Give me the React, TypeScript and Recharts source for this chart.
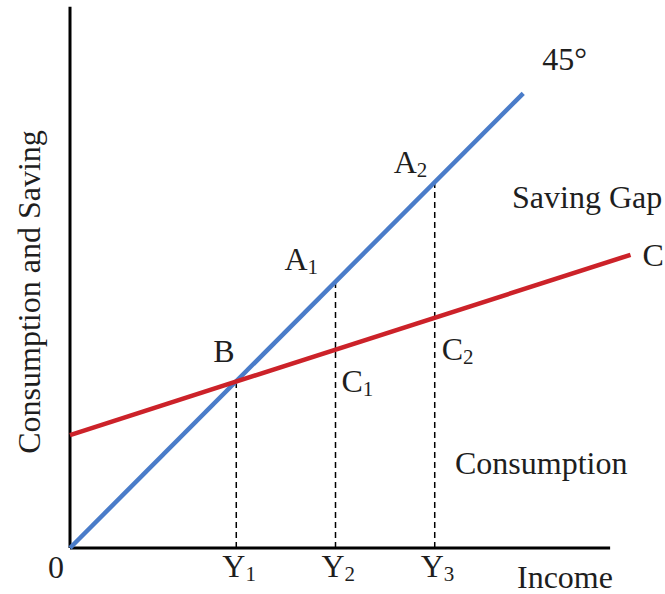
import React from 'react'
import { LineChart, Line, XAxis, YAxis, ReferenceLine, ReferenceDot } from 'recharts'

// income levels Y1, Y2, Y3 and what sits above them
const incomeLevels = [31, 49.5, 68]
const incomeNames = ['1', '2', '3']
const aValues = [49.5, 68] // A1, A2 on the 45° line
const cValues = [36.9, 42.8] // C1, C2 on the consumption line
const bValue = 31

// 45° line and consumption function
const line45 = [
  { x: 0, y: 0 },
  { x: 84.5, y: 84.5 },
]
const consumption = [
  { x: 0, y: 21 },
  { x: 104.5, y: 54.5 },
]

const FONT = '"Liberation Serif", "Times New Roman", serif'
const INK = '#1e1e1e'
const BLUE = '#4a7cc9'
const RED = '#cc2229'

function Sub({ viewBox, main, sub, dx, dy }: any) {
  const x = viewBox.x + viewBox.width / 2 + dx
  const y = viewBox.y + viewBox.height / 2 + dy
  return (
    <text x={x} y={y} fontFamily={FONT} fontSize={32} fill={INK}>
      {main}
      {sub ? <tspan fontSize={21} dy={4}>{sub}</tspan> : null}
    </text>
  )
}

export default function App() {
  return (
    <div style={{ position: 'absolute', left: 0, top: 0, width: 665, height: 594, background: '#fff' }}>
      <LineChart width={665} height={594} margin={{ top: 10, right: 5, left: 70, bottom: 46 }}>
        <XAxis type="number" dataKey="x" domain={[0, 110]} hide />
        <YAxis type="number" dataKey="y" domain={[0, 100]} hide />

        {/* axes */}
        <ReferenceLine segment={[{ x: 0, y: 0 }, { x: 100.7, y: 0 }]} stroke="#000" strokeWidth={3} ifOverflow="visible" />
        <ReferenceLine segment={[{ x: 0, y: 0 }, { x: 0, y: 100.6 }]} stroke="#000" strokeWidth={3} ifOverflow="visible" />

        {/* dashed drops */}
        <ReferenceLine segment={[{ x: incomeLevels[0], y: 0 }, { x: incomeLevels[0], y: bValue }]} stroke="#000" strokeWidth={1.5} strokeDasharray="6 4" />
        <ReferenceLine segment={[{ x: incomeLevels[1], y: 0 }, { x: incomeLevels[1], y: aValues[0] }]} stroke="#000" strokeWidth={1.5} strokeDasharray="6 4" />
        <ReferenceLine segment={[{ x: incomeLevels[2], y: 0 }, { x: incomeLevels[2], y: aValues[1] }]} stroke="#000" strokeWidth={1.5} strokeDasharray="6 4" />

        <Line data={line45} dataKey="y" type="linear" stroke={BLUE} strokeWidth={4.5} dot={false} isAnimationActive={false} />
        <Line data={consumption} dataKey="y" type="linear" stroke={RED} strokeWidth={4.5} dot={false} isAnimationActive={false} />

        {/* point labels */}
        <ReferenceDot x={bValue} y={bValue} r={0} ifOverflow="visible" label={(p: any) => <Sub {...p} main="B" dx={-23} dy={-19} />} />
        <ReferenceDot x={incomeLevels[1]} y={aValues[0]} r={0} ifOverflow="visible" label={(p: any) => <Sub {...p} main="A" sub="1" dx={-51} dy={-12} />} />
        <ReferenceDot x={incomeLevels[2]} y={aValues[1]} r={0} ifOverflow="visible" label={(p: any) => <Sub {...p} main="A" sub="2" dx={-41} dy={-9} />} />
        <ReferenceDot x={incomeLevels[1]} y={cValues[0]} r={0} ifOverflow="visible" label={(p: any) => <Sub {...p} main="C" sub="1" dx={6} dy={43} />} />
        <ReferenceDot x={incomeLevels[2]} y={cValues[1]} r={0} ifOverflow="visible" label={(p: any) => <Sub {...p} main="C" sub="2" dx={7} dy={42} />} />
        {incomeLevels.map((v, i) => (
          <ReferenceDot key={i} x={v} y={0} r={0} ifOverflow="visible" label={(p: any) => <Sub {...p} main="Y" sub={incomeNames[i]} dx={-14} dy={29} />} />
        ))}
        <ReferenceDot x={consumption[1].x} y={consumption[1].y} r={0} ifOverflow="visible" label={(p: any) => <Sub {...p} main="C" dx={12} dy={11} />} />
        <ReferenceDot x={line45[1].x} y={line45[1].y} r={0} ifOverflow="visible" label={(p: any) => <Sub {...p} main="45°" dx={19} dy={-23} />} />

        {/* free text */}
        <text x={56} y={578} textAnchor="middle" fontFamily={FONT} fontSize={32} fill={INK}>0</text>
        <text x={517} y={588} fontFamily={FONT} fontSize={32} fill={INK}>Income</text>
        <text x={455} y={474} fontFamily={FONT} fontSize={32} fill={INK}>Consumption</text>
        <text x={512} y={208} fontFamily={FONT} fontSize={32} fill={INK}>Saving Gap</text>
        <text x={40} y={292} textAnchor="middle" transform="rotate(-90, 40, 292)" fontFamily={FONT} fontSize={32} fill={INK}>
          Consumption and Saving
        </text>
      </LineChart>
    </div>
  )
}
